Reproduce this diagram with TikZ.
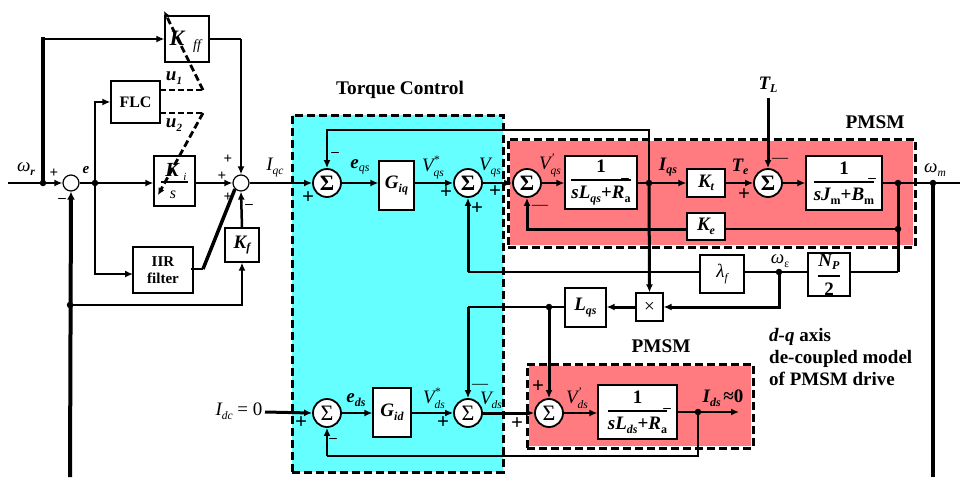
\documentclass[tikz,border=0pt]{standalone}
\usepackage{fontspec}
\setmainfont{Liberation Serif}
\usetikzlibrary{arrows.meta}
\definecolor{cy}{HTML}{66FFFF}
\definecolor{rd}{HTML}{FF7B80}
\newcommand{\fs}[1]{\fontsize{#1}{#1}\selectfont}
\newcommand{\bsb}[2]{{\bfseries\itshape\fs{19}#1\raisebox{-3.5pt}{\fs{12}#2}}}
\newcommand{\nsb}[2]{{\mdseries\itshape\fs{19}#1\raisebox{-4pt}{\fs{11.5}#2}}}
\newcommand{\nss}[3]{{\mdseries\itshape\fs{19}#1\rlap{\raisebox{8pt}{\fs{11.5}#3}}\raisebox{-5pt}{\fs{11.5}#2}}}
\newcommand{\frc}[2]{$\displaystyle{\hbox{#1}\above1.9pt\hbox{#2}}$}
\newcommand{\blk}[7][]{\pgfmathsetmacro\bcx{(#3+#5)/2}\pgfmathsetmacro\bcy{(#4+#6)/2}\pgfmathsetmacro\bw{#5-#3}\pgfmathsetmacro\bh{#6-#4}\node[blockbox,minimum width=\bw pt,minimum height=\bh pt,#1] (#2) at (\bcx,\bcy) {#7};}
\newcommand{\lab}[4]{\node[txt] (#1) at (#2,#3) {#4};}
\tikzset{
  blockbox/.style={draw=black,fill=white,line width=1.2pt,inner sep=0pt,font=\bfseries\fs{16}},
  regionbox/.style={draw=black,line width=3pt,dash pattern=on 8pt off 4pt,inner sep=0pt,fill=none},
  txt/.style={inner sep=0pt,font=\bfseries\fs{16}},
  sumc/.style={circle,draw=black,fill=white,line width=1.8pt,minimum size=28pt,inner sep=0pt,font=\fs{22}},
  sums/.style={circle,draw=black,fill=white,line width=1.2pt,minimum size=16pt,inner sep=0pt},
  jdot/.style={circle,fill=black,minimum size=6.5pt,inner sep=0pt},
  wire/.style={line width=2.5pt,-{Latex[length=8pt,width=7pt]}},
  wirep/.style={line width=2.5pt},
  thickw/.style={line width=3pt},
  heavy/.style={line width=4pt},
  dashw/.style={line width=2.2pt,dash pattern=on 6pt off 3pt},
  pm/.style={inner sep=0pt,font=\bfseries\fs{21}},
  pmd/.style={inner sep=0pt,font=\fs{16}},
  pms/.style={inner sep=0pt,font=\bfseries\fs{15}},
}
\begin{document}
\begin{tikzpicture}[x=1pt,y=-1pt]
\useasboundingbox (0,0) rectangle (960,477);
% regions
\fill[cy] (292,115) rectangle (503,472);
\fill[rd] (508,139) rectangle (915,247);
\fill[rd] (527,364) rectangle (753,448);
\draw[white,line width=3.4pt] (508,139) rectangle (915,247);
\draw[white,line width=3.4pt] (527,364) rectangle (753,448);
% summing points
\node[sums] (s0) at (71,183) {};
\node[sums] (sa) at (241,183) {};
\node[sumc] (s1) at (327,183) {\bfseries Σ};
\node[sumc] (s2) at (468,183) {\bfseries Σ};
\node[sumc] (s3) at (527,183) {\bfseries Σ};
\node[sumc] (s4) at (768,183) {\bfseries Σ};
\node[sumc] (s5) at (327,413) {Σ};
\node[sumc] (s6) at (468,413) {Σ};
\node[sumc] (s7) at (549,413) {Σ};
% blocks
\blk{kff}{165}{16}{209}{62}{}
\blk{flc}{111}{81}{160}{123}{FLC}
\blk{kis}{154}{156}{195}{206}{}
\blk[align=center,font=\bfseries\fs{15}]{iir}{133}{247}{193}{293}{IIR\\[2pt]filter}
\blk{kf}{225}{228}{259}{262}{\bsb{K}{f}}
\blk{giq}{379}{161}{414}{210}{\bsb{G}{iq}}
\blk{gid}{373}{388}{411}{437}{\bsb{G}{id}}
\blk[font=\bfseries\fs{19}]{lq}{565}{156}{637}{209}{\frc{1}{\itshape sL\raisebox{-3.5pt}{\fs{12}qs}\upshape +\itshape R\raisebox{-3.5pt}{\upshape\fs{12}a}}}
\blk{kt}{687}{169}{725}{197}{\bsb{K}{t}}
\blk{ke}{687}{213}{725}{240}{\bsb{K}{e}}
\blk[font=\bfseries\fs{19}]{jm}{806}{156}{882}{210}{\frc{1}{\itshape sJ\raisebox{-3.5pt}{\upshape\fs{12}m}\upshape +\itshape B\raisebox{-3.5pt}{\upshape\fs{12}m}}}
\blk[font=\bfseries\fs{19}]{np}{808}{253}{850}{296}{\frc{\itshape N\raisebox{-3.5pt}{\fs{12}P}}{2}}
\blk[font=\mdseries]{lam}{700}{255}{744}{293}{\nsb{λ}{f}}
\blk[font=\fs{19}]{mul}{636}{293}{663}{321}{×}
\blk{lqs}{565}{288}{606}{327}{\bsb{L}{qs}}
\blk[font=\bfseries\fs{19}]{ld}{598}{385}{677}{439}{\frc{1}{\itshape sL\raisebox{-3.5pt}{\fs{12}ds}\upshape +\itshape R\raisebox{-3.5pt}{\upshape\fs{12}a}}}
% junctions and free ends
\node[jdot] (j1) at (43,183) {};
\node[jdot] (j2) at (95,183) {};
\node[jdot] (j3) at (70,305) {};
\node[jdot] (j4) at (649,183) {};
\node[jdot] (j5) at (898,183) {};
\node[jdot] (j6) at (898,229) {};
\node[jdot] (j7) at (933,183) {};
\node[jdot] (j8) at (779,272) {};
\node[jdot] (j9) at (549,307) {};
\node[jdot] (j10) at (698,412) {};
\coordinate (wrin) at (8,183);
\coordinate (womout) at (960,183);
\coordinate (wmdown) at (933,477);
\coordinate (fbb) at (70,477);
\coordinate (tl) at (768,98);
\coordinate (idc) at (265,412);
\coordinate (idout) at (739,412);
\coordinate (iirin) at (133,274);
\coordinate (iirout) at (191,269);
\coordinate (sw) at (203,269);
\coordinate (swa) at (203,90);
\coordinate (swb) at (203,113);
\coordinate (swt) at (164,11);
\coordinate (swi) at (158,195);
\coordinate (kffo) at (241,39);
\coordinate (jup) at (43,39);
\coordinate (fl1) at (160,90);
\coordinate (fl2) at (160,113);
\coordinate (top) at (327,130);
\coordinate (top2) at (649,130);
\coordinate (bot1) at (468,272);
\coordinate (bot2) at (468,307);
\coordinate (npr) at (898,272);
\coordinate (mr) at (779,307);
\coordinate (bb) at (698,456);
\coordinate (bb2) at (327,456);
\coordinate (s3fb) at (527,229);
% left controller wires
\draw[wirep] (wrin) -- (j1.center);
\draw[wire] (j1.center) -- (s0.west);
\draw[line width=3.2pt,line cap=rect] (j1.center) -- (jup);
\draw[wire] (jup) -- (kff.west);
\draw[line width=1.5pt] (kff.east) -- (kffo);
\draw[wire] (kffo) -- (sa.north);
\draw[wirep] (s0.east) -- (j2.center);
\draw[wire] (j2.center) -- (j2 -| kis.west);
\draw[wire] (j2.center) |- (flc.west);
\draw[wire] (j2.center) |- (iirin);
\draw[wire] (sa -| kis.east) -- (sa.west);
\draw[heavy,-{Latex[length=8pt,width=8pt]}] (fbb) -- (s0.south);
\draw[wire] (j3.center) -| (kf.south);
\draw[wire] (kf.north) -- (sa.south);
\draw[line width=1.2pt] (iirout) -- (sw);
\draw[line width=3.5pt] (sw) -- (sa.south west);
\draw[dashw] (fl1) -- (swa);
\draw[dashw] (fl2) -- (swb);
\draw[line width=2.8pt,dash pattern=on 7pt off 3.5pt,-{Latex[length=7pt,width=7pt]}] (swa) -- (swt);
\draw[line width=2.8pt,dash pattern=on 7pt off 3.5pt,-{Latex[length=7pt,width=7pt]}] (swb) -- (swi);
% q axis
\draw[wire] (sa.east) -- (s1.west);
\draw[wire] (s1.east) -- (s1 -| giq.west);
\draw[wire] (s1 -| giq.east) -- (s2.west);
\draw[wire] (s2.east) -- (s3.west);
\draw[wire] (s3.east) -- (s3 -| lq.west);
\draw[wirep] (j4 -| lq.east) -- (j4.center);
\draw[wire] (j4.center) -- (j4 -| kt.west);
\draw[wire] (j4 -| kt.east) -- (s4.west);
\draw[wire] (s4.east) -- (s4 -| jm.west);
\draw[wirep] (j5 -| jm.east) -- (womout);
\draw[wire,line width=3pt] (tl) -- (s4.north);
\draw[wire] (j4.center) -- (top2) -- (top) -- (s1.north);
\draw[wire,line width=3pt] (j4.center) -- (mul.north);
\draw[thickw] (j5.center) -- (j6.center);
\draw[wirep] (j6.center) -- (j6 -| ke.east);
\draw[wire,line width=3pt] (j6 -| ke.west) -- (s3fb) -- (s3.south);
\draw[thickw] (j6.center) -- (npr);
\draw[wirep] (npr) -- (npr -| np.east);
\draw[wirep] (j8 -| np.west) -- (j8.center) -- (j8 -| lam.east);
\draw[wirep] (j8 -| lam.west) -- (bot1);
\draw[wire,line width=3pt] (bot1) -- (s2.south);
\draw[heavy] (j7.center) -- (wmdown);
\draw[wire,line width=3pt] (j8.center) -- (mr) -- (mr -| mul.east);
\draw[wire,line width=3pt] (mr -| mul.west) -- (mr -| lqs.east);
% d axis
\draw[wirep] (j9 -| lqs.west) -- (j9.center) -- (bot2);
\draw[wire,line width=3pt] (bot2) -- (s6.north);
\draw[wire,line width=3pt] (j9.center) -- (s7.north);
\draw[wire,line width=3pt] (idc) -- (s5.west);
\draw[wire] (s5.east) -- (s5 -| gid.west);
\draw[wire] (s5 -| gid.east) -- (s6.west);
\draw[wire,line width=3pt] (s6.east) -- (s7.west);
\draw[wire] (s7.east) -- (s7 -| ld.west);
\draw[wire] (idout -| ld.east) -- (idout);
\draw[wirep] (j10.center) -- (bb) -- (bb2);
\draw[wire] (bb2) -- (s5.south);
% dashed region outlines
\node[regionbox,minimum width=211pt,minimum height=357pt] (regc) at (397.5,293.5) {};
\node[regionbox,minimum width=407pt,minimum height=108pt] (regm) at (711.5,193) {};
\node[regionbox,minimum width=226pt,minimum height=84pt] (regd) at (640,406) {};
% text
\lab{tkff}{177}{38}{\bfseries\itshape\fs{22}K}
\lab{tff}{197}{46}{\mdseries\itshape\fs{14}ff}
\lab{tki}{172}{170}{\bfseries\itshape\fs{20}K}
\lab{tii}{185}{177}{\mdseries\itshape\fs{11}i}
\lab{tks}{173}{195}{\itshape\mdseries\fs{16}s}
\draw[line width=1.2pt] (161,182) -- (188,182);
\lab{tu1}{174}{78}{\bsb{u}{\fs{11}1}}
\lab{tu2}{174}{125}{\bsb{u}{\fs{11}2}}
\lab{tw}{26}{169}{\nsb{ω}{\bfseries r}}
\lab{te}{86}{170}{\bfseries\itshape\fs{15}e}
\lab{tiqc}{275}{167}{\nsb{I}{qc}}
\lab{teq}{360}{167}{\bsb{e}{\mdseries qs}}
\lab{tvs}{433}{167}{\nss{V}{qs}{*}}
\lab{tvq}{490}{167}{\nsb{V}{qs}}
\lab{tvp}{550}{165}{\nss{V}{qs}{'}}
\lab{tiq}{668}{167}{\bsb{I}{qs}}
\lab{tte}{740}{167}{\bsb{T}{e}}
\lab{ttl}{768}{85}{\bsb{T}{L}}
\lab{twm}{935}{170}{\nsb{ω}{m}}
\lab{twe}{780}{261}{\nsb{ω}{\upshape ε}}
\lab{ted}{356}{400}{\bsb{e}{ds}}
\lab{tvsd}{434}{398}{\nss{V}{ds}{*}}
\lab{tvd}{491}{400}{\nsb{V}{ds}}
\lab{tvpd}{577}{398}{\nss{V}{ds}{'}}
\lab{tid}{723}{398}{\bsb{I}{ds}\,{\bfseries\fs{19}≈0}}
\lab{tidc}{239}{411}{\nsb{I}{dc}{\mdseries\upshape\fs{19} = 0}}
\lab{ttc}{400}{90}{\fs{19.3}Torque Control}
\lab{tp1}{875}{122}{\fs{19.3}PMSM}
\lab{tp2}{661}{346}{\fs{19.3}PMSM}
\node[txt,anchor=west,align=left,font=\bfseries\fs{19}] (tdq) at (769,357) {\itshape d-q\upshape{} axis\\[3pt]de-coupled model\\[3pt]of PMSM drive};
% signs
\node[pms] (p01) at (54,173) {+};
\node[pms] (m01) at (62,200) {–};
\node[pms] (p02) at (228,159) {+};
\node[pms] (p03) at (222,176) {+};
\node[pms] (p04) at (228,197) {+};
\node[pms] (m02) at (249,206) {–};
\node[pms] (m03) at (335,154) {–};
\node[pm] (p11) at (308,198) {+};
\node[pm] (p12) at (446,193) {+};
\node[pm] (p13) at (477,209) {+};
\node[pm] (p14) at (495,192) {+};
\node[pm] (p15) at (744,195) {+};
\node[pmd] (m11) at (540,207) {—};
\node[pmd] (m12) at (780,160) {—};
\node[pmd] (m13) at (480,386) {—};
\node[pms] (m14) at (333,440) {–};
\node[pm] (p21) at (301,423) {+};
\node[pm] (p22) at (443,423) {+};
\node[pm] (p23) at (517,424) {+};
\node[pm] (p24) at (538,387) {+};
\node[pms] (m21) at (625,180) {–};
\node[pms] (m22) at (872,180) {–};
\node[pms] (m23) at (667,410) {–};
\end{tikzpicture}
\end{document}
